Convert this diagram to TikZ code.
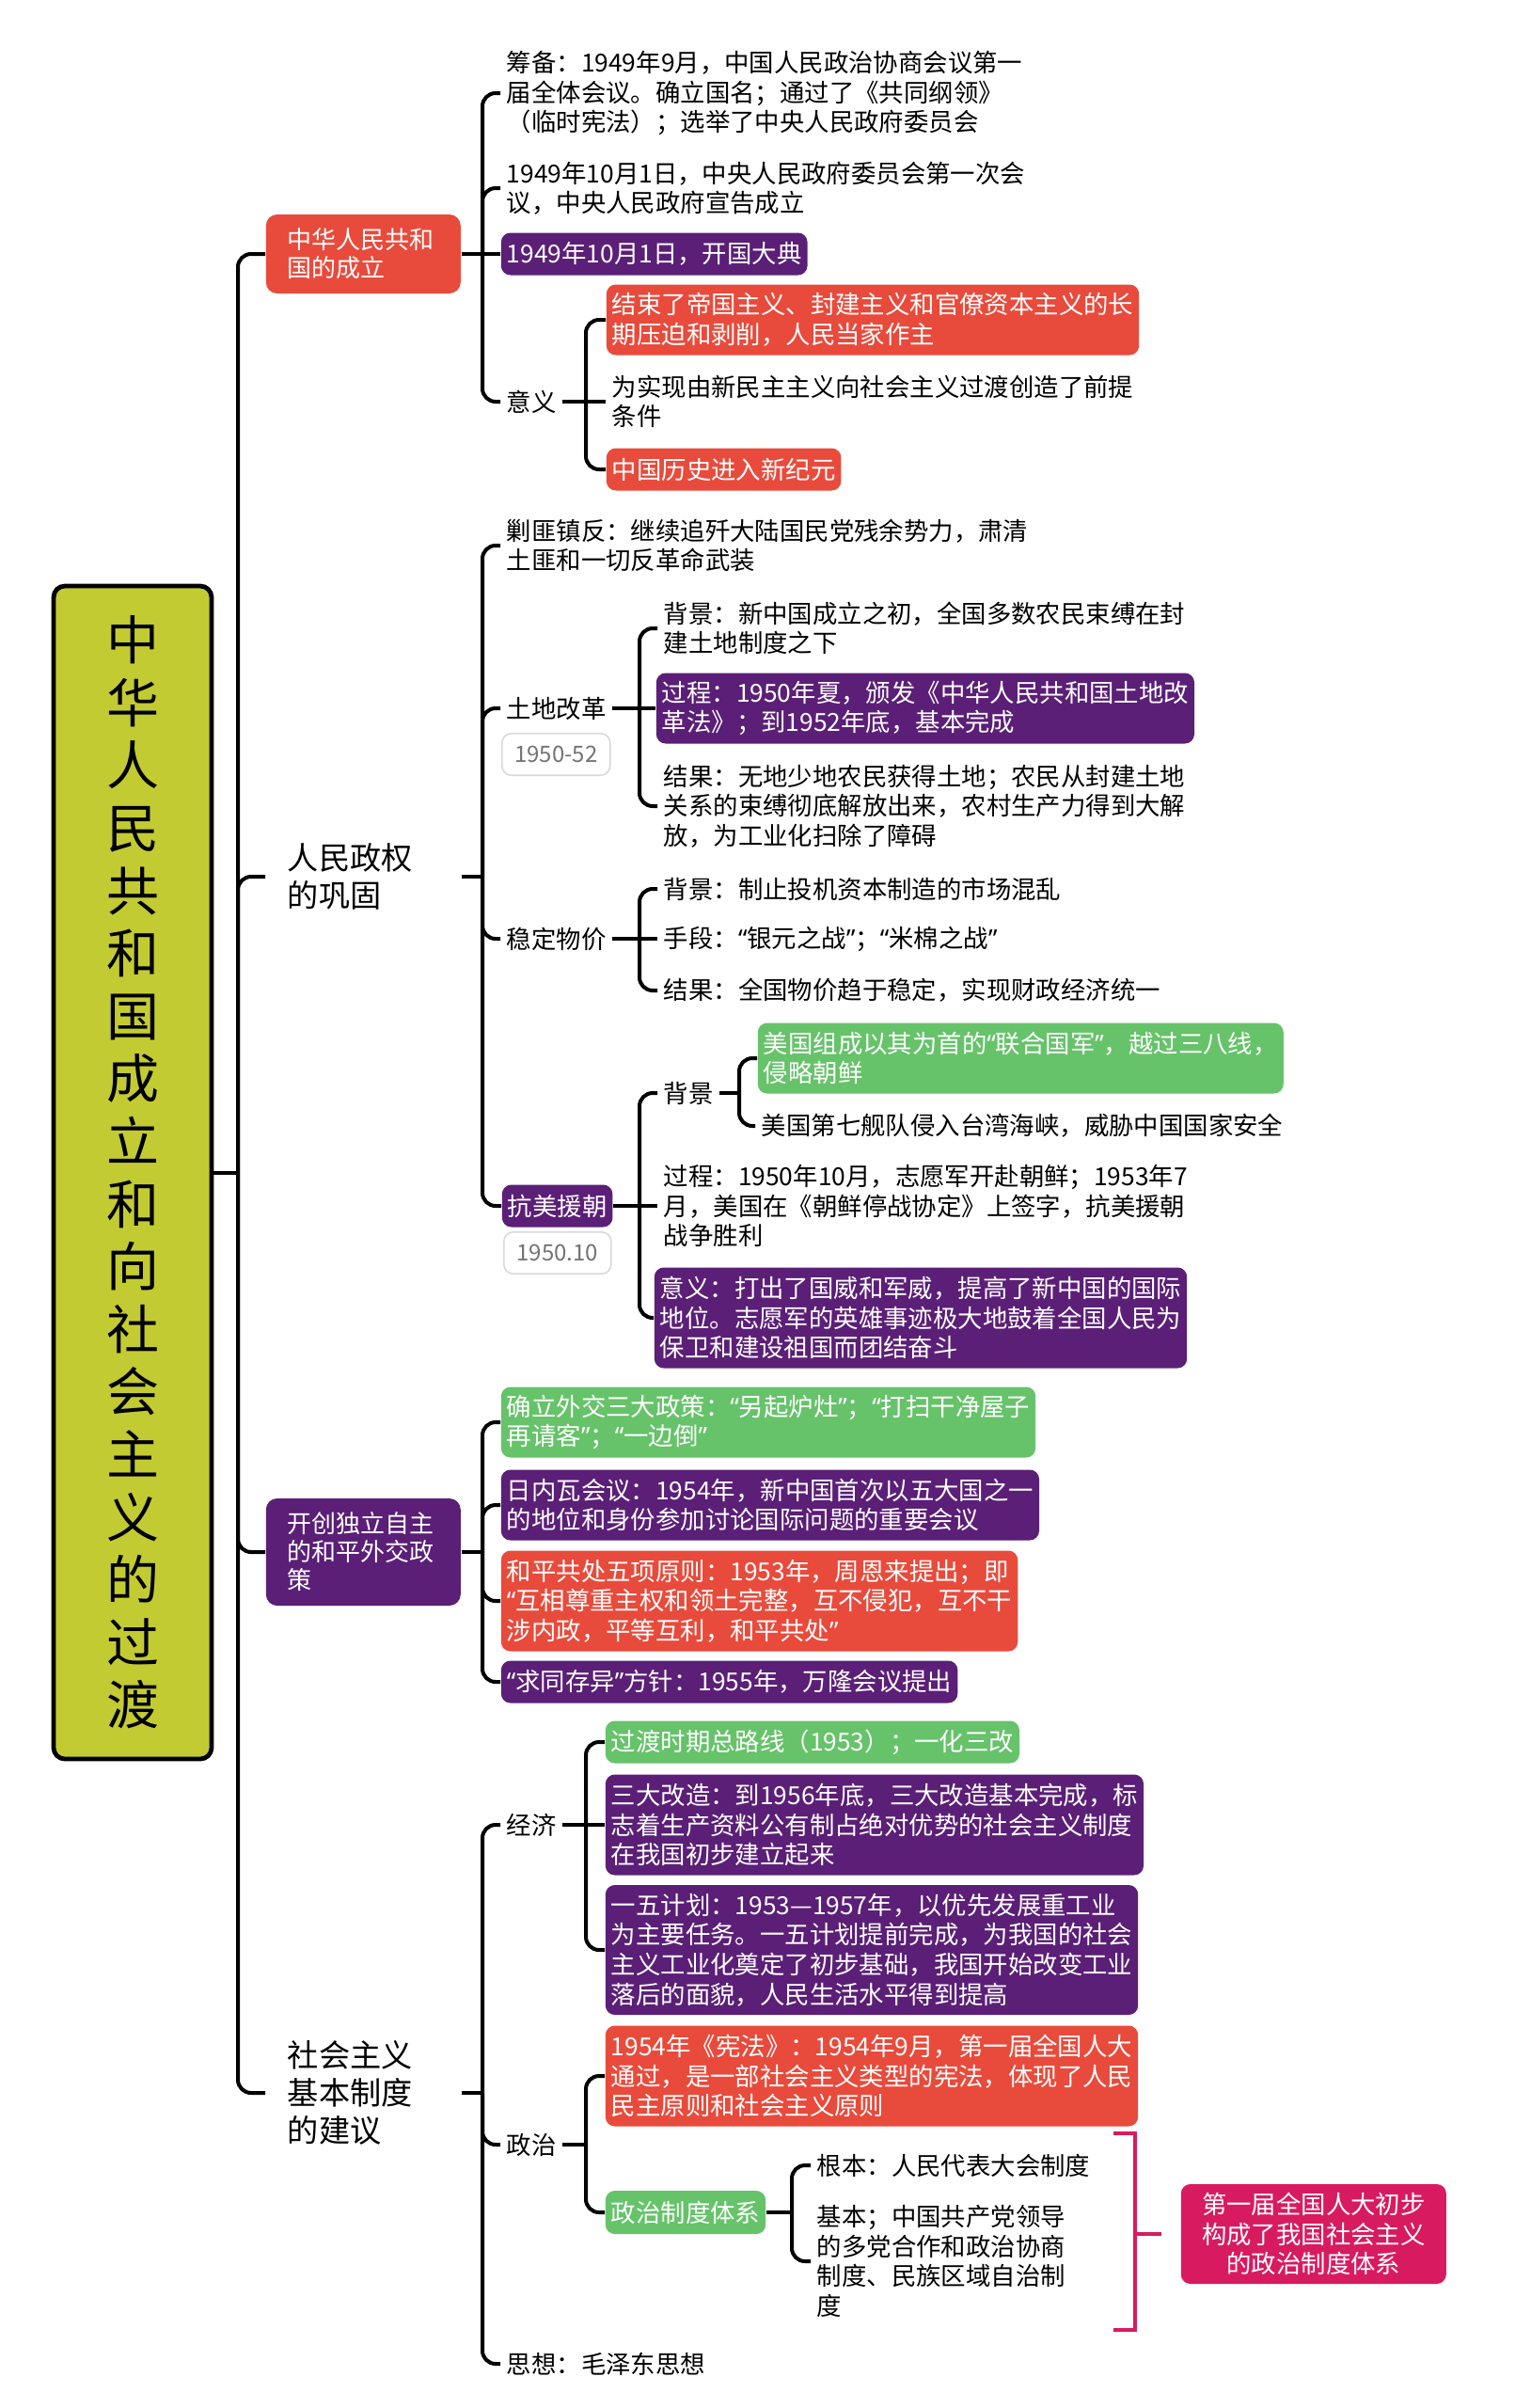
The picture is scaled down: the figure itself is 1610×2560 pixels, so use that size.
\documentclass[tikz,border=0pt]{standalone}
\usepackage{fontspec}
\setmainfont{Noto Sans CJK SC}
\newfontfamily\qfont{Noto Sans}
\usetikzlibrary{calc}
\definecolor{mmred}{HTML}{E84B3C}
\definecolor{mmpurple}{HTML}{5B1F77}
\definecolor{mmgreen}{HTML}{66C36A}
\definecolor{mmpink}{HTML}{D81B60}
\definecolor{mmtitle}{HTML}{C3CB33}
\newcommand{\mmbody}{\fontsize{6.6pt}{7.9pt}\selectfont}
\newcommand{\mmtopic}{\fontsize{8.3pt}{10pt}\selectfont}
\newcommand{\mmsmall}{\fontsize{6.5pt}{7.5pt}\selectfont}
\newcommand{\mmtag}{\fontsize{6pt}{7pt}\selectfont}
\newcommand{\mmtitlefont}{\fontsize{14pt}{16.65pt}\selectfont}
\newcommand{\mmlq}{{\qfont “}}
\newcommand{\mmrq}{{\qfont ”}}

\begin{document}
\begin{tikzpicture}[x=0.25pt, y=-0.25pt,
  conn/.style={line width=1pt, rounded corners=3.5pt},
  txt/.style={anchor=west, align=left, inner xsep=1.5pt, inner ysep=0.5pt, font=\mmbody},
  tbox/.style={txt, text=white, rounded corners=2.5pt},
  redbox/.style={tbox, fill=mmred},
  purplebox/.style={tbox, fill=mmpurple},
  greenbox/.style={tbox, fill=mmgreen},
  lines1/.style={minimum height=11.25pt},
  lines2/.style={minimum height=18.75pt},
  lines3/.style={minimum height=26.75pt},
  lines4/.style={minimum height=34.5pt},
  topic/.style={anchor=west, align=left, text width=40.25pt, inner xsep=5.75pt, font=\mmtopic},
  topicbox/.style={topic, font=\mmsmall, text=white, rounded corners=3pt},
  datetag/.style={anchor=west, draw=black!15, line width=0.4pt, rounded corners=2.5pt, text=black!55, font=\mmtag, minimum width=28.5pt, minimum height=9pt}]
\path[use as bounding box, fill=white] (0,0) rectangle (1610,2560);

% title and main branches
\node (title) at (141,1246.5) [draw, line width=1.2pt, fill=mmtitle, rounded corners=3pt, minimum width=42pt, minimum height=311.75pt, align=center, font=\mmtitlefont] {中\\华\\人\\民\\共\\和\\国\\成\\立\\和\\向\\社\\会\\主\\义\\的\\过\\渡};
\node (t1) at (282,270) [topicbox, fill=mmred, minimum height=21pt] {中华人民共和\\国的成立};
\node (t2) at (282,932) [topic] {人民政权\\的巩固};
\node (t3) at (282,1650) [topicbox, fill=mmpurple, minimum height=28.5pt] {开创独立自主\\的和平外交政\\策};
\node (t4) at (282,2225) [topic] {社会主义\\基本制度\\的建议};

\coordinate (b0) at (253,0);
\coordinate (b1) at (513,0);
\draw[conn] (title.east) -- (title.east -| b0);
\draw[conn] (title.east -| b0) |- (t1.west);
\draw[conn] (title.east -| b0) |- (t2.west);
\draw[conn] (title.east -| b0) |- (t3.west);
\draw[conn] (title.east -| b0) |- (t4.west);

% founding
\node (c11) at (532,99) [txt] {筹备：1949年9月，中国人民政治协商会议第一\\届全体会议。确立国名；通过了《共同纲领》\\（临时宪法）；选举了中央人民政府委员会};
\node (c12) at (532,200) [txt] {1949年10月1日，中央人民政府委员会第一次会\\议，中央人民政府宣告成立};
\node (c13) at (532,270) [purplebox, lines1] {1949年10月1日，开国大典};
\node (c14) at (532,427) [txt] {意义};
\node (d11) at (644,340) [redbox, lines2] {结束了帝国主义、封建主义和官僚资本主义的长\\期压迫和剥削，人民当家作主};
\node (d12) at (644,427) [txt] {为实现由新民主主义向社会主义过渡创造了前提\\条件};
\node (d13) at (644,499) [redbox, lines1] {中国历史进入新纪元};

\coordinate (b11) at (623,0);
\draw[conn] (t1.east) -- (t1.east -| b1);
\draw[conn] (t1.east -| b1) |- (c11.west);
\draw[conn] (t1.east -| b1) |- (c12.west);
\draw[conn] (t1.east) -- (c13.west);
\draw[conn] (t1.east -| b1) |- (c14.west);
\draw[conn] (c14.east) -- (c14.east -| b11);
\draw[conn] (c14.east -| b11) |- (d11.west);
\draw[conn] (c14.east) -- (d12.west);
\draw[conn] (c14.east -| b11) |- (d13.west);

% consolidation
\node (c21) at (532,580) [txt] {剿匪镇反：继续追歼大陆国民党残余势力，肃清\\土匪和一切反革命武装};
\node (c22) at (532,753) [txt] {土地改革};
\node (tag1) at (533,802) [datetag] {1950-52};
\node (c23) at (532,998) [txt] {稳定物价};
\node (c24) at (533,1282) [purplebox, lines1] {抗美援朝};
\node (tag2) at (535,1332) [datetag] {1950.10};

\node (e21) at (699,668) [txt] {背景：新中国成立之初，全国多数农民束缚在封\\建土地制度之下};
\node (e22) at (697,753) [purplebox, lines2] {过程：1950年夏，颁发《中华人民共和国土地改\\革法》；到1952年底，基本完成};
\node (e23) at (699,857) [txt] {结果：无地少地农民获得土地；农民从封建土地\\关系的束缚彻底解放出来，农村生产力得到大解\\放，为工业化扫除了障碍};
\node (e24) at (699,945) [txt] {背景：制止投机资本制造的市场混乱};
\node (e25) at (699,998) [txt] {手段：\mmlq 银元之战\mmrq；\mmlq 米棉之战\mmrq};
\node (e26) at (699,1053) [txt] {结果：全国物价趋于稳定，实现财政经济统一};
\node (e27) at (699,1162) [txt] {背景};
\node (e28) at (699,1282) [txt] {过程：1950年10月，志愿军开赴朝鲜；1953年7\\月，美国在《朝鲜停战协定》上签字，抗美援朝\\战争胜利};
\node (e29) at (695,1401) [purplebox, lines3] {意义：打出了国威和军威，提高了新中国的国际\\地位。志愿军的英雄事迹极大地鼓着全国人民为\\保卫和建设祖国而团结奋斗};
\node (f21) at (805,1125) [greenbox, lines2] {美国组成以其为首的\mmlq 联合国军\mmrq，越过三八线，\\侵略朝鲜};
\node (f22) at (803,1197) [txt] {美国第七舰队侵入台湾海峡，威胁中国国家安全};

\coordinate (b21) at (680,0);
\coordinate (b22) at (786,0);
\draw[conn] (t2.east) -- (t2.east -| b1);
\draw[conn] (t2.east -| b1) |- (c21.west);
\draw[conn] (t2.east -| b1) |- (c22.west);
\draw[conn] (t2.east -| b1) |- (c23.west);
\draw[conn] (t2.east -| b1) |- (c24.west);
\draw[conn] (c22.east) -- (c22.east -| b21);
\draw[conn] (c22.east -| b21) |- (e21.west);
\draw[conn] (c22.east) -- (e22.west);
\draw[conn] (c22.east -| b21) |- (e23.west);
\draw[conn] (c23.east) -- (c23.east -| b21);
\draw[conn] (c23.east -| b21) |- (e24.west);
\draw[conn] (c23.east) -- (e25.west);
\draw[conn] (c23.east -| b21) |- (e26.west);
\draw[conn] (c24.east) -- (c24.east -| b21);
\draw[conn] (c24.east -| b21) |- (e27.west);
\draw[conn] (c24.east) -- (e28.west);
\draw[conn] (c24.east -| b21) |- (e29.west);
\draw[conn] (e27.east) -- (e27.east -| b22);
\draw[conn] (e27.east -| b22) |- (f21.west);
\draw[conn] (e27.east -| b22) |- (f22.west);

% foreign policy
\node (c31) at (532,1512) [greenbox, lines2] {确立外交三大政策：\mmlq 另起炉灶\mmrq；\mmlq 打扫干净屋子\\再请客\mmrq；\mmlq 一边倒\mmrq};
\node (c32) at (532,1600) [purplebox, lines2] {日内瓦会议：1954年，新中国首次以五大国之一\\的地位和身份参加讨论国际问题的重要会议};
\node (c33) at (532,1702) [redbox, lines3] {和平共处五项原则：1953年，周恩来提出；即\\\mmlq 互相尊重主权和领土完整，互不侵犯，互不干\\涉内政，平等互利，和平共处\mmrq};
\node (c34) at (532,1788) [purplebox, lines1] {\mmlq 求同存异\mmrq 方针：1955年，万隆会议提出};

\draw[conn] (t3.east) -- (t3.east -| b1);
\draw[conn] (t3.east -| b1) |- (c31.west);
\draw[conn] (t3.east -| b1) |- (c32.west);
\draw[conn] (t3.east -| b1) |- (c33.west);
\draw[conn] (t3.east -| b1) |- (c34.west);

% socialist system
\node (c41) at (532,1940) [txt] {经济};
\node (c42) at (532,2280) [txt] {政治};
\node (c43) at (532,2513) [txt] {思想：毛泽东思想};
\node (g41) at (643,1852) [greenbox, lines1] {过渡时期总路线（1953）；一化三改};
\node (g42) at (643,1940) [purplebox, lines3] {三大改造：到1956年底，三大改造基本完成，标\\志着生产资料公有制占绝对优势的社会主义制度\\在我国初步建立起来};
\node (g43) at (643,2073) [purplebox, lines4] {一五计划：1953—1957年，以优先发展重工业\\为主要任务。一五计划提前完成，为我国的社会\\主义工业化奠定了初步基础，我国开始改变工业\\落后的面貌，人民生活水平得到提高};
\node (g44) at (643,2207) [redbox, lines3] {1954年《宪法》：1954年9月，第一届全国人大\\通过，是一部社会主义类型的宪法，体现了人民\\民主原则和社会主义原则};
\node (g45) at (643,2352) [greenbox, minimum height=11.5pt] {政治制度体系};
\node (h41) at (862,2302) [txt] {根本：人民代表大会制度};
\node (h42) at (862,2404) [txt] {基本；中国共产党领导\\的多党合作和政治协商\\制度、民族区域自治制\\度};
\node (sum) at (1255,2375) [tbox, fill=mmpink, align=center, minimum width=70.5pt, minimum height=26.5pt] {第一届全国人大初步\\构成了我国社会主义\\的政治制度体系};

\coordinate (b41) at (623,0);
\coordinate (b42) at (842,0);
\draw[conn] (t4.east) -- (t4.east -| b1);
\draw[conn] (t4.east -| b1) |- (c41.west);
\draw[conn] (t4.east -| b1) |- (c42.west);
\draw[conn] (t4.east -| b1) |- (c43.west);
\draw[conn] (c41.east) -- (c41.east -| b41);
\draw[conn] (c41.east -| b41) |- (g41.west);
\draw[conn] (c41.east) -- (g42.west);
\draw[conn] (c41.east -| b41) |- (g43.west);
\draw[conn] (c42.east) -- (c42.east -| b41);
\draw[conn] (c42.east -| b41) |- (g44.west);
\draw[conn] (c42.east -| b41) |- (g45.west);
\draw[conn] (g45.east) -- (g45.east -| b42);
\draw[conn] (g45.east -| b42) |- (h41.west);
\draw[conn] (g45.east -| b42) |- (h42.west);

% summary bracket
\coordinate (brk) at (1207,2375);
\draw[mmpink, line width=0.8pt] (1184,2268) -- (1207,2268) -- (1207,2477) -- (1184,2477);
\draw[mmpink, line width=0.8pt] (brk) -- ([xshift=-5pt]sum.west);
\end{tikzpicture}
\end{document}
